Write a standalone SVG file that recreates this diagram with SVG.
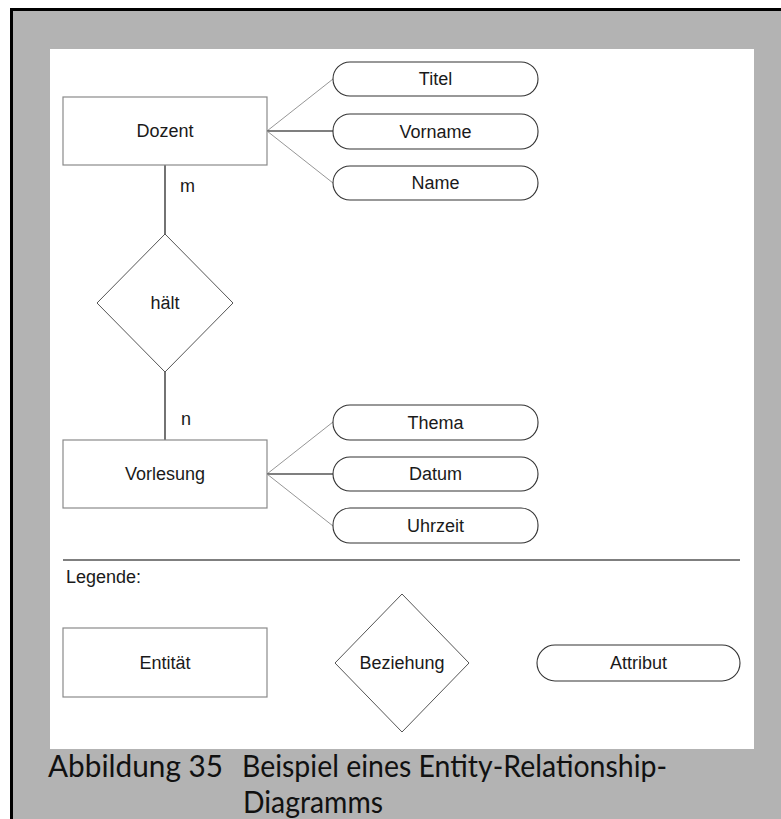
<svg xmlns="http://www.w3.org/2000/svg" width="781" height="819" viewBox="0 0 781 819">
  <style>
    .lbl { font-family: "Liberation Sans", Arial, sans-serif; font-size: 18px; fill: #1a1a1a; text-anchor: middle; dominant-baseline: central; }
    .card { font-family: "Liberation Sans", Arial, sans-serif; font-size: 18px; fill: #1a1a1a; }
    .entity { fill: #ffffff; stroke: #8a8a8a; stroke-width: 1.2; }
    .rel { fill: #ffffff; stroke: #555555; stroke-width: 1; }
    .attr { fill: #ffffff; stroke: #333333; stroke-width: 1.1; }
    .link { stroke: #000000; stroke-width: 1.1; fill: none; }
    .slant { stroke: #8a8a8a; stroke-width: 0.9; fill: none; }
    .caption { font-family: Lato, "Open Sans", sans-serif; font-size: 30px; fill: #111111; }
  </style>

  <!-- page frame -->
  <rect x="0" y="0" width="781" height="819" fill="#ffffff"/>
  <rect x="10" y="8" width="771" height="811" fill="#000000"/>
  <rect x="13" y="11" width="768" height="808" fill="#b3b3b3"/>
  <rect x="50" y="49" width="704" height="700" fill="#ffffff"/>

  <!-- connectors -->
  <g id="connectors">
    <line class="link" x1="165" y1="165" x2="165" y2="234"/>
    <line class="link" x1="165" y1="372" x2="165" y2="440"/>
    <line class="slant" x1="267" y1="131" x2="333" y2="79"/>
    <line class="link" x1="267" y1="131" x2="333" y2="131"/>
    <line class="slant" x1="267" y1="131" x2="333" y2="183"/>
    <line class="slant" x1="267" y1="474" x2="333" y2="422"/>
    <line class="link" x1="267" y1="474" x2="333" y2="474"/>
    <line class="slant" x1="267" y1="474" x2="333" y2="526"/>
    <text class="card" x="180" y="192">m</text>
    <text class="card" x="181" y="425">n</text>
  </g>

  <!-- entities -->
  <g id="dozent">
    <rect class="entity" x="63" y="97" width="204" height="68"/>
    <text class="lbl" x="165" y="131">Dozent</text>
  </g>
  <g id="vorlesung">
    <rect class="entity" x="63" y="440" width="204" height="68"/>
    <text class="lbl" x="165" y="474">Vorlesung</text>
  </g>

  <!-- relationship -->
  <g id="haelt">
    <polygon class="rel" points="165,234 233,303 165,372 97,303"/>
    <text class="lbl" x="165" y="303">hält</text>
  </g>

  <!-- attributes -->
  <g id="titel">
    <rect class="attr" x="333" y="62" width="205" height="34" rx="17"/>
    <text class="lbl" x="435.5" y="79">Titel</text>
  </g>
  <g id="vorname">
    <rect class="attr" x="333" y="114" width="205" height="35" rx="17"/>
    <text class="lbl" x="435.5" y="131.5">Vorname</text>
  </g>
  <g id="name">
    <rect class="attr" x="333" y="166" width="205" height="34" rx="17"/>
    <text class="lbl" x="435.5" y="183">Name</text>
  </g>
  <g id="thema">
    <rect class="attr" x="333" y="405" width="205" height="35" rx="17"/>
    <text class="lbl" x="435.5" y="422.5">Thema</text>
  </g>
  <g id="datum">
    <rect class="attr" x="333" y="457" width="205" height="34" rx="17"/>
    <text class="lbl" x="435.5" y="474">Datum</text>
  </g>
  <g id="uhrzeit">
    <rect class="attr" x="333" y="508" width="205" height="35" rx="17"/>
    <text class="lbl" x="435.5" y="525.5">Uhrzeit</text>
  </g>

  <!-- legend -->
  <g id="legend">
    <line x1="63" y1="560" x2="740" y2="560" stroke="#000000" stroke-width="1.1"/>
    <text class="card" x="66" y="583">Legende:</text>
  </g>
  <g id="legend-entity">
    <rect class="entity" x="63" y="628" width="204" height="69"/>
    <text class="lbl" x="165" y="662.5">Entität</text>
  </g>
  <g id="legend-relationship">
    <polygon class="rel" points="402,594 469,663 402,732 335,663"/>
    <text class="lbl" x="402" y="663">Beziehung</text>
  </g>
  <g id="legend-attribute">
    <rect class="attr" x="537" y="645" width="203" height="36" rx="18"/>
    <text class="lbl" x="638.5" y="663">Attribut</text>
  </g>

  <!-- caption -->
  <g id="caption">
    <text class="caption" x="48" y="777" textLength="175" lengthAdjust="spacingAndGlyphs">Abbildung 35</text>
    <text class="caption" x="242" y="777" textLength="425" lengthAdjust="spacingAndGlyphs">Beispiel eines Entity-Relationship-</text>
    <text class="caption" x="243" y="813" textLength="140" lengthAdjust="spacingAndGlyphs">Diagramms</text>
  </g>
</svg>
